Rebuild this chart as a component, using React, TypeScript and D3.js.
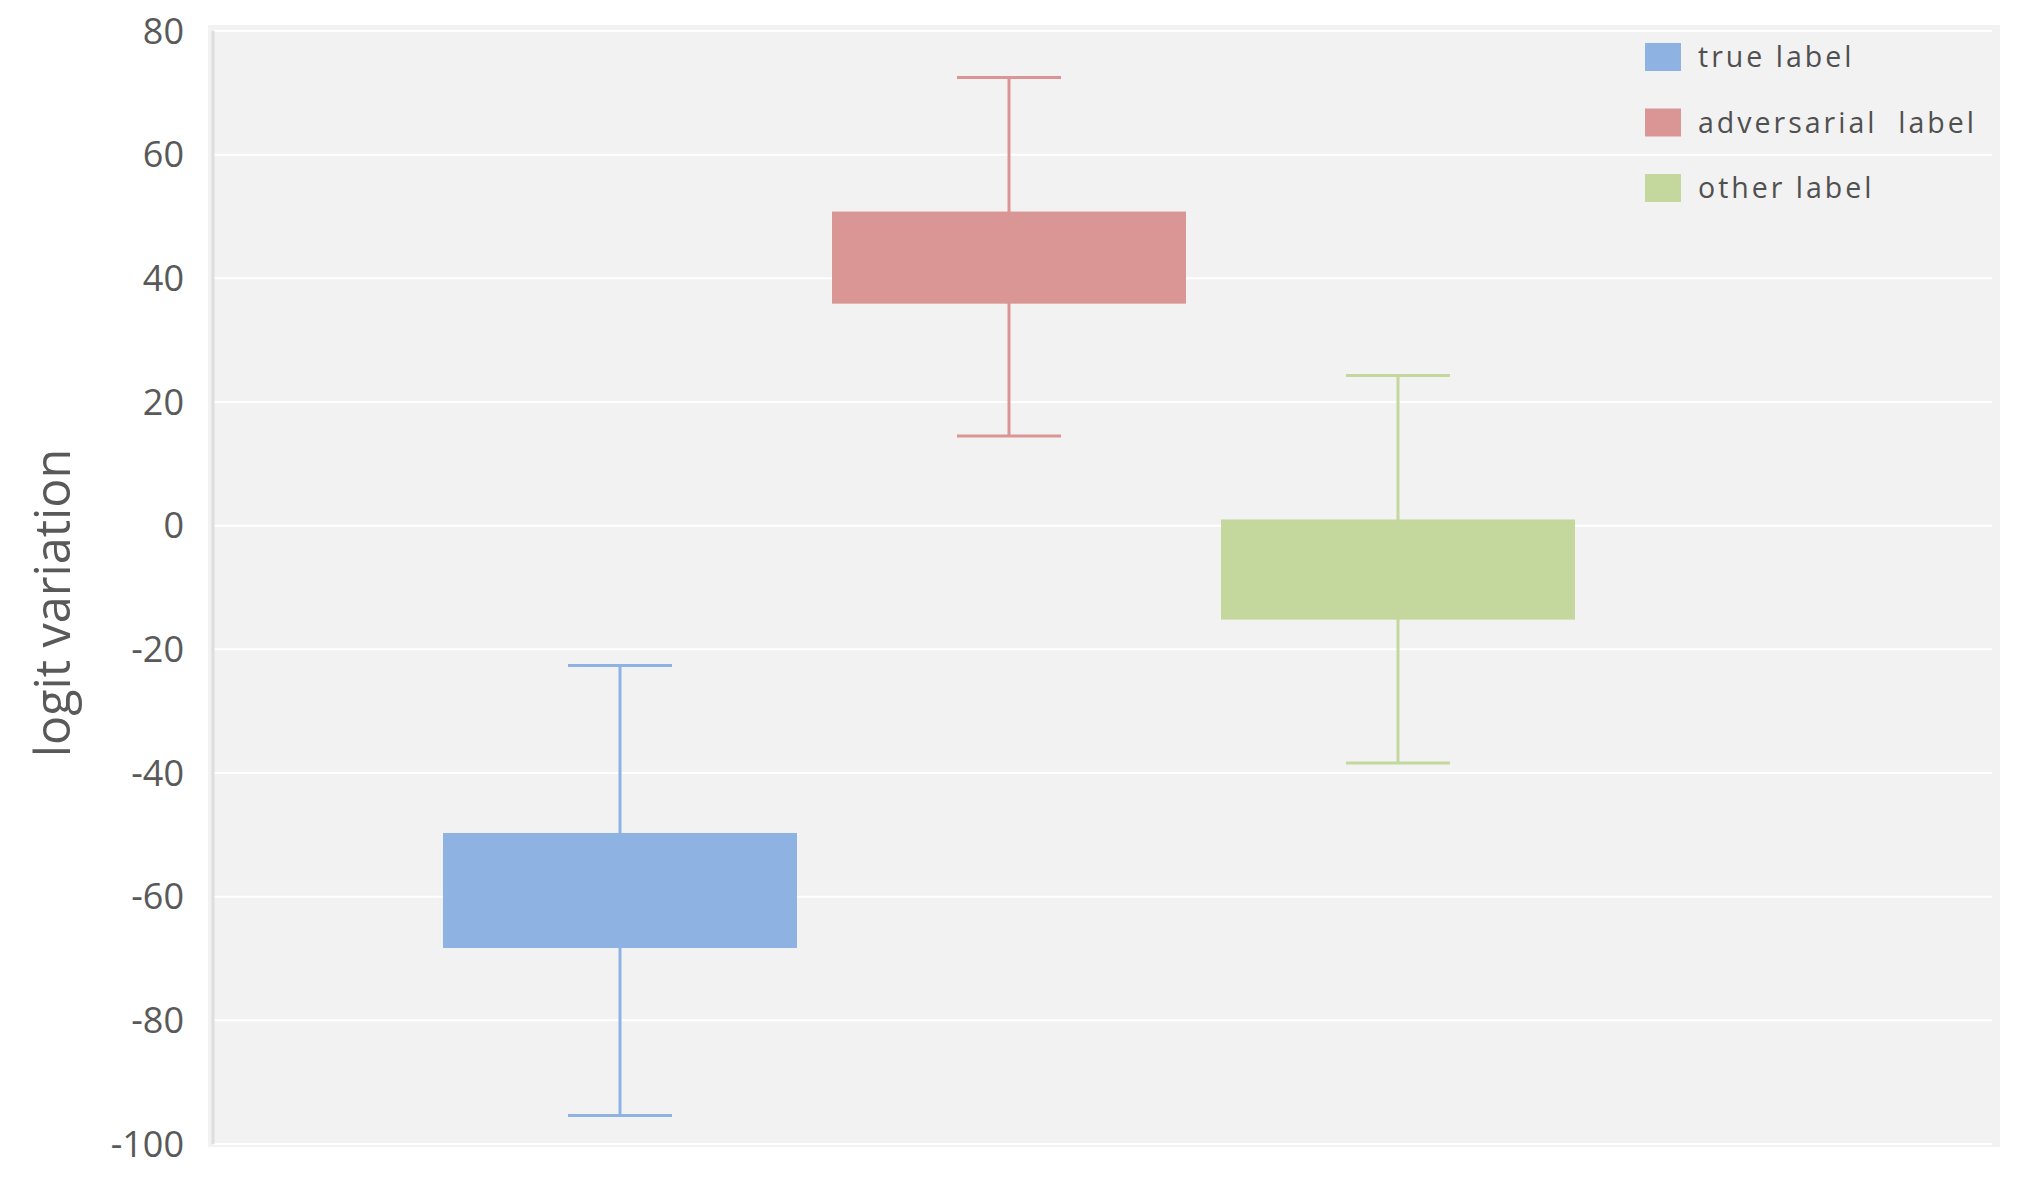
import React from "react";
import * as d3 from "d3";

const categories = ["true label", "adversarial  label", "other label"];
const whiskerHigh = [-22.6, 72.5, 24.3];
const boxHigh = [-49.7, 50.8, 1.0];
const boxLow = [-68.3, 35.9, -15.2];
const whiskerLow = [-95.4, 14.5, -38.4];
const colors = ["#8EB3E2", "#D99694", "#C4D79C"];
const yTicks = [-100, -80, -60, -40, -20, 0, 20, 40, 60, 80];
const yTitle = "logit variation";

const W = 2036;
const H = 1184;
const plot = { left: 208, right: 2000, top: 25, bottom: 1147 };

export default function App() {
  const y = d3.scaleLinear().domain([-100, 80]).range([1144, 31]);
  const x = d3.scalePoint<string>().domain(categories).range([620, 1398]);
  const boxW = 354;
  const capW = 104;
  const legend = d3.scalePoint<string>().domain(categories).range([57, 188]);

  return (
    <svg
      width={W}
      height={H}
      style={{ position: "absolute", left: 0, top: 0, background: "#fff" }}
    >
      <rect
        x={plot.left}
        y={plot.top}
        width={plot.right - plot.left}
        height={plot.bottom - plot.top}
        fill="#f2f2f2"
      />
      {yTicks.map((t) => (
        <line
          key={"g" + t}
          x1={plot.left + 6}
          x2={plot.right - 8}
          y1={y(t)}
          y2={y(t)}
          stroke="#ffffff"
          strokeWidth={2}
        />
      ))}
      <line
        x1={plot.left + 5}
        x2={plot.left + 5}
        y1={y(80)}
        y2={y(-100)}
        stroke="#dedede"
        strokeWidth={3}
      />
      {yTicks.map((t) => (
        <text
          key={"t" + t}
          x={184}
          y={y(t)}
          dy="0.35em"
          textAnchor="end"
          fontFamily="'Open Sans', sans-serif"
          fontSize={36}
          fill="#595959"
        >
          {t}
        </text>
      ))}
      <text
        transform={`translate(70, 603) rotate(-90)`}
        textAnchor="middle"
        fontFamily="'Open Sans', sans-serif"
        fontSize={48.5}
        fill="#595959"
      >
        {yTitle}
      </text>
      {categories.map((c, i) => {
        const cx = x(c) as number;
        return (
          <g key={c}>
            <line
              x1={cx}
              x2={cx}
              y1={y(whiskerHigh[i])}
              y2={y(whiskerLow[i])}
              stroke={colors[i]}
              strokeWidth={3}
            />
            <line
              x1={cx - capW / 2}
              x2={cx + capW / 2}
              y1={y(whiskerHigh[i])}
              y2={y(whiskerHigh[i])}
              stroke={colors[i]}
              strokeWidth={3}
            />
            <line
              x1={cx - capW / 2}
              x2={cx + capW / 2}
              y1={y(whiskerLow[i])}
              y2={y(whiskerLow[i])}
              stroke={colors[i]}
              strokeWidth={3}
            />
            <rect
              x={cx - boxW / 2}
              y={y(boxHigh[i])}
              width={boxW}
              height={y(boxLow[i]) - y(boxHigh[i])}
              fill={colors[i]}
            />
          </g>
        );
      })}
      {categories.map((c, i) => {
        const ly = legend(c) as number;
        return (
          <g key={"l" + c}>
            <rect x={1645} y={ly - 14} width={36} height={28} fill={colors[i]} />
            <text
              x={1698}
              y={ly}
              dy="0.36em"
              fontFamily="'Open Sans', sans-serif"
              fontSize={28.5}
              letterSpacing={3}
              fill="#505050"
              style={{ whiteSpace: "pre" }}
            >
              {c}
            </text>
          </g>
        );
      })}
    </svg>
  );
}
